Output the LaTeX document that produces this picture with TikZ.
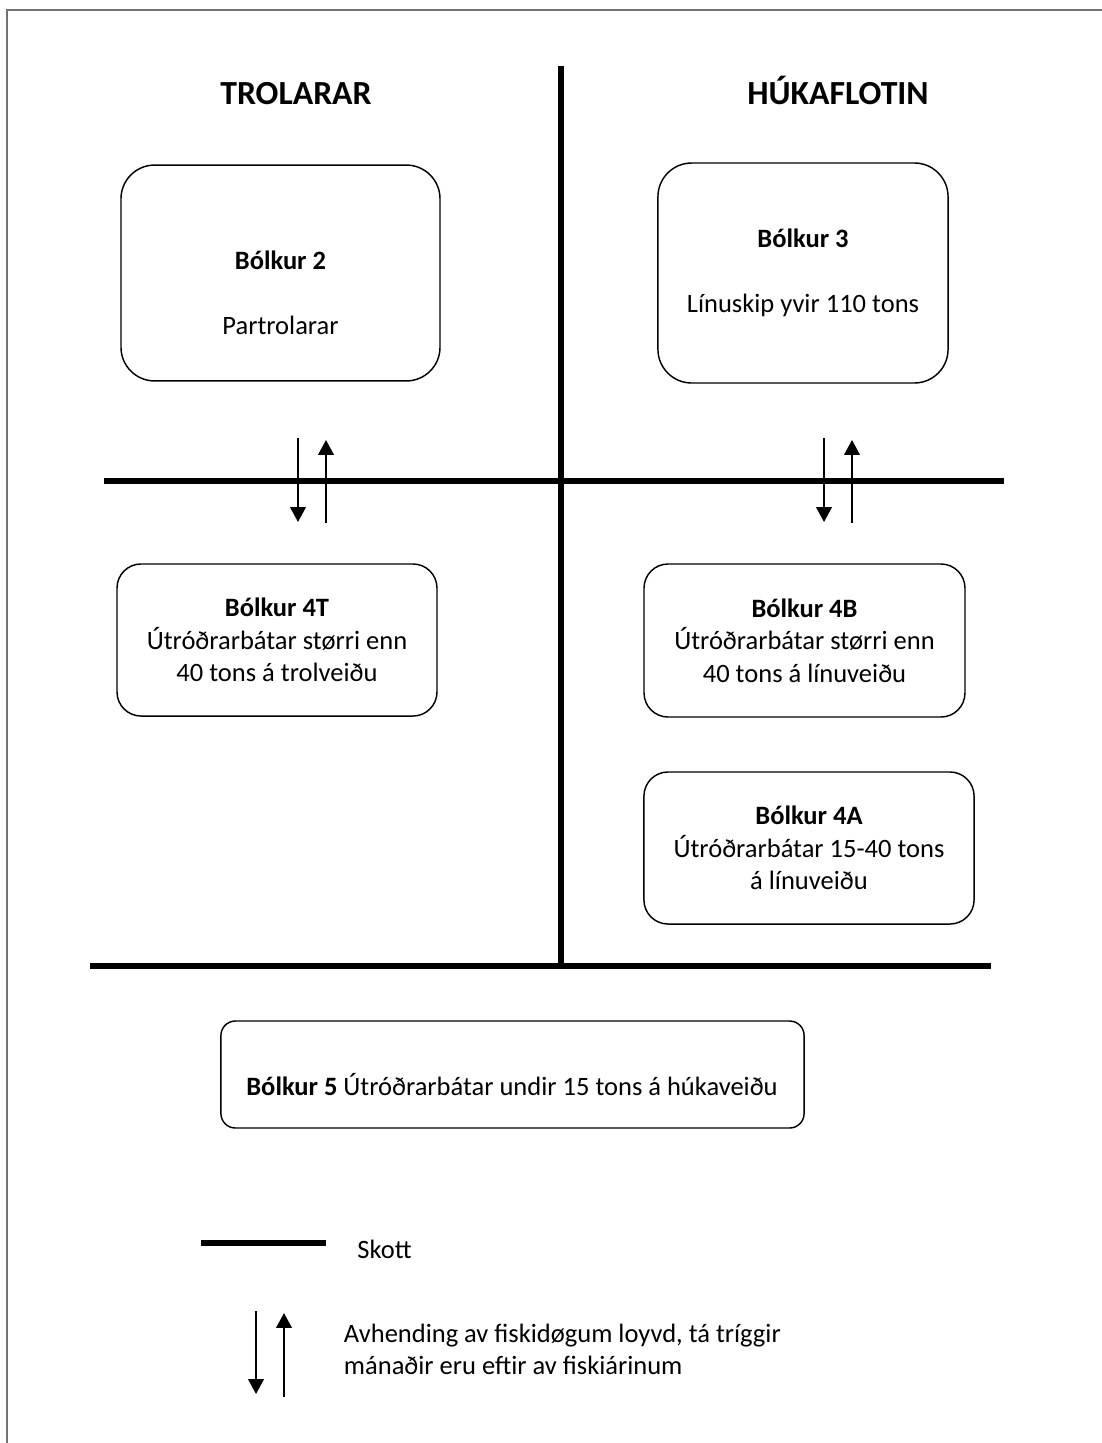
\documentclass[tikz,border=0pt]{standalone}
\usepackage{fontspec}
\setmainfont{Carlito}
\usetikzlibrary{arrows.meta}

\tikzset{
  box/.style={draw, line width=0.6pt, rounded corners=10pt, align=center, inner sep=0pt},
  skott/.style={line width=2.1pt},
  flyt/.style={line width=0.8pt, -{Triangle[width=6.5pt,length=6.2pt]}},
  head/.style={font=\fontsize{14}{17}\selectfont\bfseries, anchor=base},
}

\begin{document}
\begin{tikzpicture}[x=0.415pt, y=-0.415pt, font=\fontsize{11}{13.5}\selectfont]
\useasboundingbox (0,0) rectangle (1102,1443);
% ramma
\draw[black!55, line width=0.8pt] (7,1443) -- (7,10) -- (1102,10);

% skott
\coordinate (v1) at (561,66);
\coordinate (v2) at (561,966);
\coordinate (h1a) at (104,481);
\coordinate (h1b) at (1004,481);
\coordinate (h2a) at (90,966);
\coordinate (h2b) at (991,966);
\draw[skott] (v1) -- (v2);
\draw[skott] (h1a) -- (h1b);
\draw[skott] (h2a) -- (h2b);

% yvirskriftir
\node[head] (trol) at (296,104) {TROLARAR};
\node[head] (huk) at (838,104) {HÚKAFLOTIN};

% bólkar
\node[box, rounded corners=14pt, minimum width=132.4pt, minimum height=89.6pt] (b2) at (280.5,273) {};
\node[align=center] (b2t) at (280.5,292.5) {\textbf{Bólkur 2}\\[13.5pt]Partrolarar};
\node[box, rounded corners=14pt, minimum width=120.4pt, minimum height=91.3pt] (b3) at (803,273)
  {\textbf{Bólkur 3}\\[13.5pt]Línuskip yvir 110 tons};
\node[box, minimum width=132.8pt, minimum height=63.1pt] (b4t) at (277,640)
  {\textbf{Bólkur 4T}\\Útróðrarbátar størri enn\\40 tons á trolveiðu};
\node[box, minimum width=133.2pt, minimum height=63.5pt] (b4b) at (804.5,640.5)
  {\textbf{Bólkur 4B}\\Útróðrarbátar størri enn\\40 tons á línuveiðu};
\node[box, minimum width=137pt, minimum height=63.1pt] (b4a) at (809,848)
  {\textbf{Bólkur 4A}\\Útróðrarbátar 15-40 tons\\á línuveiðu};
\node[box, rounded corners=6pt, minimum width=242pt, minimum height=44.4pt] (b5) at (512.5,1074.5) {};
\node (b5t) at (512,1085) {\textbf{Bólkur 5} Útróðrarbátar undir 15 tons á húkaveiðu};

% avhending
\draw[flyt] (298,438) -- (298,522);
\draw[flyt] (326,523) -- (326,440);
\draw[flyt] (824,438) -- (824,522);
\draw[flyt] (852,523) -- (852,440);

% frágreiðing
\draw[skott, line width=2.4pt] (201,1243) -- (326,1243);
\node[anchor=west, inner sep=0pt] (skt) at (357,1249) {Skott};
\draw[flyt] (256,1311) -- (256,1394);
\draw[flyt] (284,1397) -- (284,1313);
\node[anchor=west, inner sep=0pt, align=left] (avh) at (343.5,1349.5)
  {Avhending av fiskidøgum loyvd, tá tríggir\\mánaðir eru eftir av fiskiárinum};
\end{tikzpicture}
\end{document}
